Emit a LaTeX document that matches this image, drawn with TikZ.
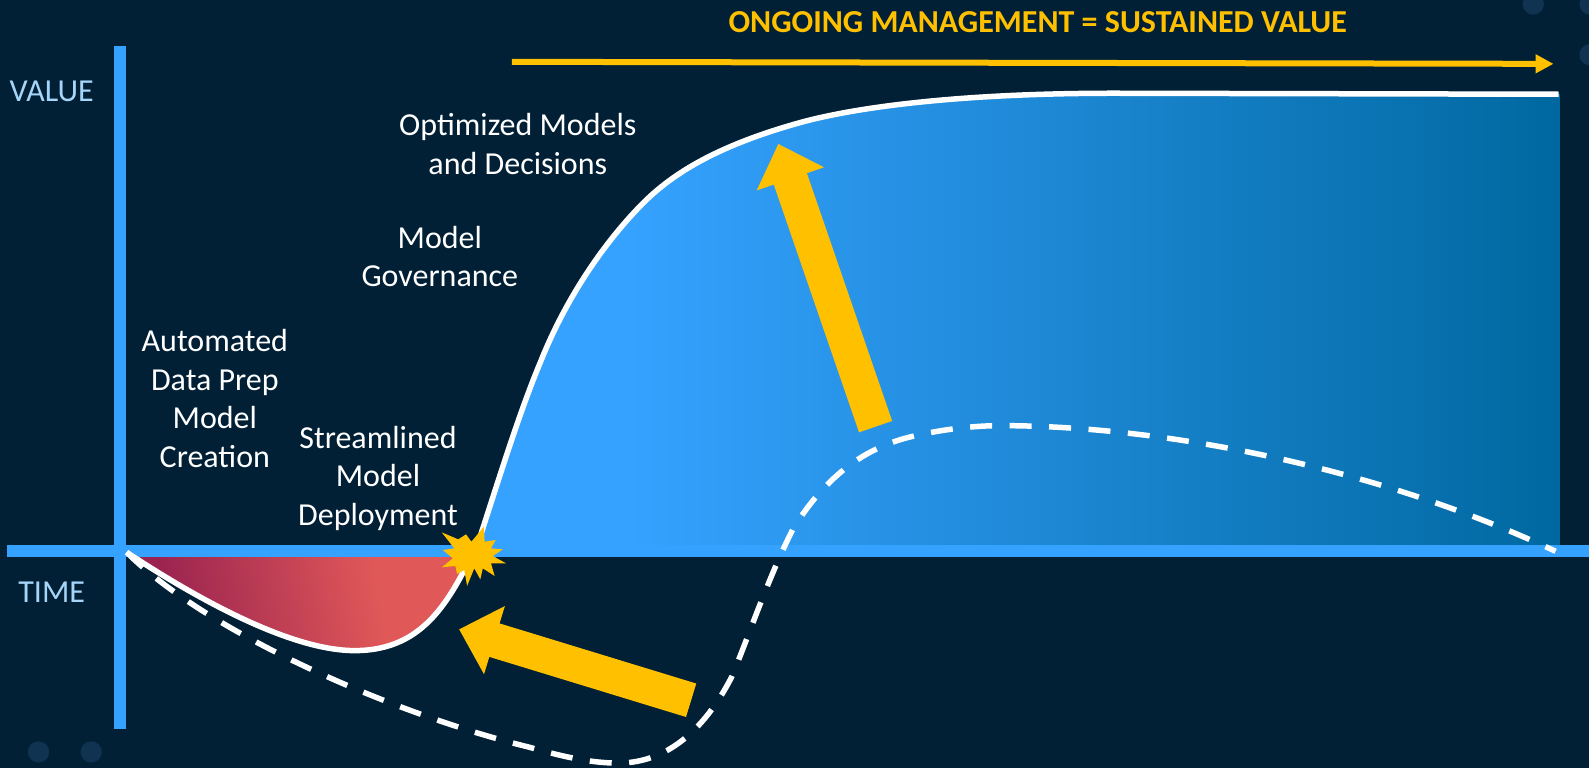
\documentclass[tikz,border=0pt]{standalone}
\usepackage{fontspec}
\setmainfont{Carlito}
\usetikzlibrary{arrows.meta}
\definecolor{bgnavy}{HTML}{012035}
\definecolor{dotnavy}{HTML}{0F3350}
\definecolor{axisblue}{HTML}{35A2FF}
\definecolor{areadark}{HTML}{0068A0}
\definecolor{softblue}{HTML}{A6D5FA}
\definecolor{gold}{HTML}{FFC000}
\definecolor{lossdark}{HTML}{9A2350}
\definecolor{losslight}{HTML}{E05858}
\pgfdeclarehorizontalshading{areafade}{100bp}{color(0bp)=(axisblue); color(32bp)=(axisblue); color(75bp)=(areadark); color(100bp)=(areadark)}
\pgfdeclarehorizontalshading{lossfade}{100bp}{color(0bp)=(lossdark); color(28bp)=(lossdark); color(62bp)=(losslight); color(100bp)=(losslight)}
\tikzset{
  label/.style={text=white,align=center,font=\fontsize{32}{38.5}\selectfont},
  axislabel/.style={text=softblue,font=\fontsize{32}{38}\selectfont},
  axis/.style={axisblue,line width=12},
  bigarrow/.style={gold,line width=35,-{Triangle[width=69,length=37]}},
  curve/.style={white,line width=5.5},
}
\begin{document}
\begin{tikzpicture}[x=1.0134pt,y=-1.0134pt]
  \fill[bgnavy] (0,0) rectangle (1568,758);
  \useasboundingbox (0,0) rectangle (1568,758);
  \foreach \cx/\cy in {38/742,90/742,1513/4,1569/4,1569/54}
    \fill[dotnavy] (\cx,\cy) circle (10.5);
  \shade[shading=areafade] (472,544) -- (472,535) .. controls (490,480) and (512,408) .. (533,358)
    .. controls (560,290) and (600,235) .. (635,200)
    .. controls (670,165) and (720,140) .. (793,120)
    .. controls (850,105) and (950,92) .. (1100,92) -- (1540,93) -- (1540,544) -- cycle;
  \begin{scope}
    \clip (125,544) rectangle (480,660);
    \shade[shading=lossfade,shading angle=10] (125,545) .. controls (190,588) and (285,642) .. (350,642)
      .. controls (420,642) and (445,590) .. (472,535) -- cycle;
  \end{scope}
  \coordinate (axisTop) at (118,45);
  \coordinate (axisBottom) at (118,719);
  \coordinate (axisLeft) at (7,544);
  \coordinate (axisRight) at (1568,544);
  \draw[axis] (axisTop) -- (axisBottom);
  \draw[axis] (axisLeft) -- (axisRight);
  \coordinate (start) at (125,545);
  \coordinate (low) at (350,642);
  \coordinate (takeoff) at (472,535);
  \coordinate (rise) at (533,358);
  \coordinate (bend) at (635,200);
  \coordinate (shoulder) at (793,120);
  \coordinate (top) at (1100,92);
  \coordinate (topEnd) at (1538,93);
  \draw[curve] (start) .. controls (190,588) and (285,642) .. (low)
    .. controls (420,642) and (445,590) .. (takeoff)
    .. controls (490,480) and (512,408) .. (rise)
    .. controls (560,290) and (600,235) .. (bend)
    .. controls (670,165) and (720,140) .. (shoulder)
    .. controls (850,105) and (950,92) .. (top) -- (topEnd);
  \coordinate (dashFall) at (521,737);
  \coordinate (dashLow) at (610,753);
  \coordinate (dashUp) at (722,668);
  \coordinate (dashRise) at (783,521);
  \coordinate (dashCrest) at (908,429);
  \coordinate (dashPeak) at (987,420);
  \coordinate (dashEnd) at (1535,544);
  \draw[curve,dash pattern=on 22 off 17.5] (start) .. controls (205,625) and (390,705) .. (dashFall)
    .. controls (550,745) and (580,753) .. (dashLow)
    .. controls (650,753) and (690,730) .. (dashUp)
    .. controls (738,630) and (758,570) .. (dashRise)
    .. controls (812,475) and (850,440) .. (dashCrest)
    .. controls (930,424) and (960,420) .. (dashPeak)
    .. controls (1150,420) and (1360,462) .. (dashEnd);
  \begin{scope}[shift={(0,473.66)},x=0.3524*1.0134pt,y=-0.3289*1.0134pt]
    \fill[gold] (1237,157) -- (1283,178) -- (1305,163) -- (1320,185) -- (1355,140) -- (1357,185)
      -- (1388,180) -- (1375,205) -- (1408,208) -- (1380,228) -- (1417,250) -- (1375,250)
      -- (1385,288) -- (1352,265) -- (1345,298) -- (1328,265) -- (1308,318) -- (1300,270)
      -- (1280,282) -- (1275,258) -- (1237,262) -- (1268,235) -- (1240,210) -- (1272,205) -- cycle;
  \end{scope}
  \coordinate (upFrom) at (864,421);
  \coordinate (upTip) at (768,142);
  \coordinate (backFrom) at (682,691);
  \coordinate (backTip) at (453,621);
  \draw[bigarrow] (upFrom) -- (upTip);
  \draw[bigarrow] (backFrom) -- (backTip);
  \coordinate (ongoingFrom) at (505,61);
  \coordinate (ongoingTo) at (1533,63);
  \draw[gold,line width=6,-{Triangle[width=18,length=18]}] (ongoingFrom) -- (ongoingTo);
  \node[text=gold,font=\fontsize{32}{38}\selectfont\bfseries] (ongoing) at (1024,22) {ONGOING MANAGEMENT = SUSTAINED VALUE};
  \node[axislabel] (value) at (51,90) {VALUE};
  \node[axislabel] (time) at (51,584) {TIME};
  \node[label] (optimized) at (511,142) {Optimized Models\\and Decisions};
  \node[label] (governance) at (434,253) {Model\\Governance};
  \node[label] (automated) at (212,393) {Automated\\Data Prep\\Model\\Creation};
  \node[label] (streamlined) at (373,472) {Streamlined\\Model\\Deployment};
\end{tikzpicture}
\end{document}
